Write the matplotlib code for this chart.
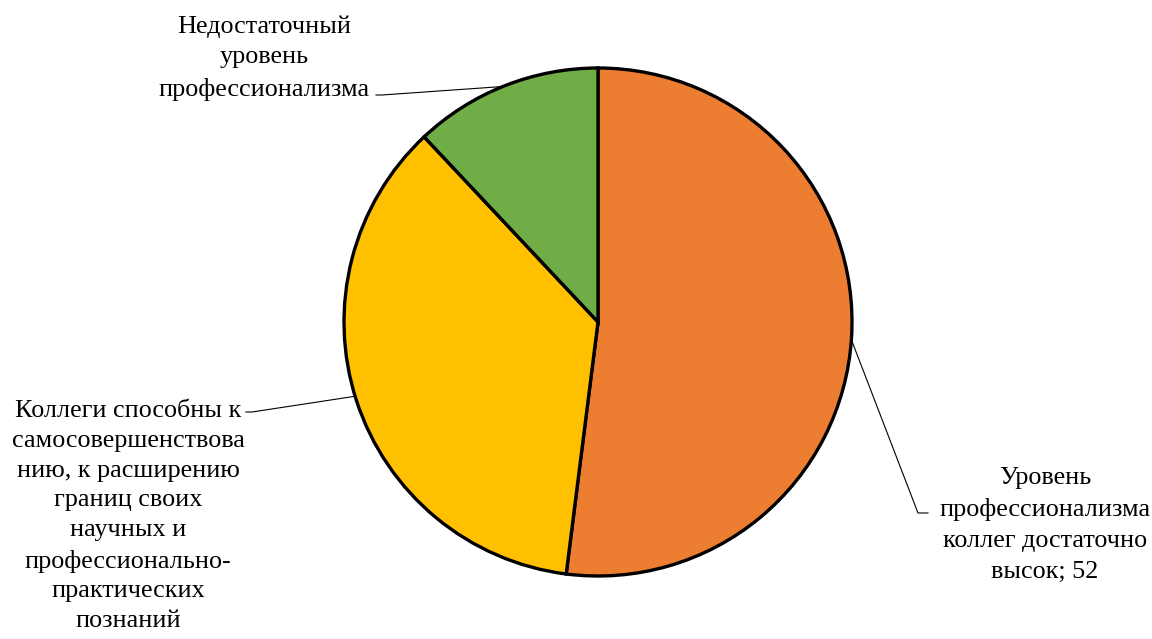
import numpy as np
import matplotlib
matplotlib.use('Agg')
import matplotlib.pyplot as plt

# data
labels = ['Уровень\nпрофессионализма\nколлег достаточно\nвысок; 52',
          'Коллеги способны к\nсамосовершенствова\nнию, к расширению\nграниц своих\nнаучных и\nпрофессионально-\nпрактических\nпознаний',
          'Недостаточный\nуровень\nпрофессионализма']
values = [52, 36, 12]
colors = ['#ED7D31', '#FFC000', '#70AD47']

plt.rcParams['font.family'] = ['Liberation Serif', 'DejaVu Serif']

fig = plt.figure(figsize=(11.52, 6.39), dpi=100)
ax = fig.add_axes([0, 0, 1, 1])

cx, cy, r = 598, 317, 254
wedges, _ = ax.pie(values, colors=colors, startangle=90, counterclock=False,
                   center=(cx, cy), radius=r, frame=True,
                   wedgeprops=dict(edgecolor='black', linewidth=2.4))
ax.set_xlim(0, 1152)
ax.set_ylim(0, 639)
ax.axis('off')

# leader lines: rim angle, elbow, end ; text anchor (top center), linespacing
leaders = [
    (-4, (918, 126), (928, 126), (1045, 172), 1.52),
    (197, (252, 227), (246, 227), (128, 239), 1.46),
    (112, (382, 544), (376, 544), (264, 624), 1.52),
]
fs = 18.8
for lab, (ang, elbow, end, tpos, ls) in zip(labels, leaders):
    a = np.deg2rad(ang)
    p0 = (cx + r * np.cos(a), cy + r * np.sin(a))
    ax.plot([p0[0], elbow[0], end[0]], [p0[1], elbow[1], end[1]],
            color='black', lw=0.8, zorder=0)
    ax.text(tpos[0], tpos[1], lab, ha='center', va='top', fontsize=fs,
            linespacing=ls)

fig.savefig('out.png', dpi=100)
